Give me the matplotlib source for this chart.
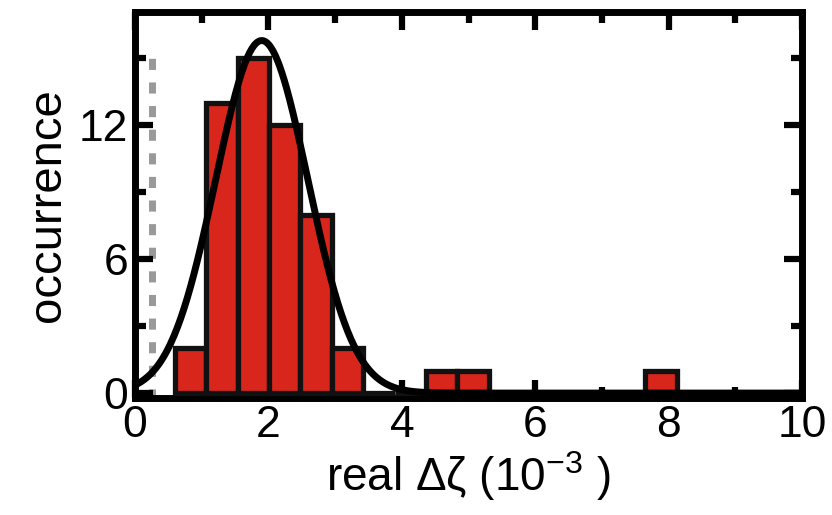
import numpy as np
import matplotlib
matplotlib.use('Agg')
import matplotlib.pyplot as plt
from matplotlib.ticker import MultipleLocator

plt.rcParams['font.family'] = ['Liberation Sans', 'DejaVu Sans']
plt.rcParams['mathtext.fontset'] = 'custom'
plt.rcParams['mathtext.rm'] = 'Liberation Sans'
plt.rcParams['mathtext.it'] = 'Liberation Sans'

# histogram of real delta-zeta (units of 1e-3)
bin_start = 0.6
bin_width = 0.47
counts = [2, 13, 15, 12, 8, 2, 0, 0, 1, 1, 0, 0, 0, 0, 0, 1, 0]

# gaussian fit
fit_amp = 15.8
fit_mu = 1.9
fit_sigma = 0.69

# threshold marker
threshold = 0.25
threshold_top = 15.4

edges = bin_start + bin_width * np.arange(len(counts))

fig = plt.figure(figsize=(8.32, 5.15), dpi=100)
ax = fig.add_axes([0.1623, 0.2272, 0.8017, 0.7495])

ax.plot([threshold, threshold], [-0.3, threshold_top], color='#999999',
        lw=5, dashes=(1.6, 1.8), zorder=1)
# empty bins still get an outline, which thickens the baseline
ax.bar(edges, counts, width=bin_width, align='edge', color='#d9261c',
       edgecolor='#111111', linewidth=3.8, zorder=3)

xf = np.linspace(0, 10, 600)
yf = fit_amp * np.exp(-(xf - fit_mu) ** 2 / (2 * fit_sigma ** 2))
ax.plot(xf, yf, color='black', lw=5, zorder=4)

ax.set_xlim(0, 10)
ax.set_ylim(-0.22, 17.08)
ax.xaxis.set_major_locator(MultipleLocator(2))
ax.xaxis.set_minor_locator(MultipleLocator(1))
ax.yaxis.set_major_locator(MultipleLocator(6))
ax.yaxis.set_minor_locator(MultipleLocator(3))

for side in ax.spines.values():
    side.set_linewidth(5)
ax.tick_params(which='both', direction='in', top=True, right=True,
               width=4.5, labelsize=32, pad=5)
ax.tick_params(which='major', length=13)
ax.tick_params(which='minor', length=8)

ax.set_xlabel('real Δζ (10$^{-3}$ )', fontsize=33, labelpad=2)
ax.set_ylabel('occurrence', fontsize=34, labelpad=6)

fig.savefig('out.png', dpi=100)
